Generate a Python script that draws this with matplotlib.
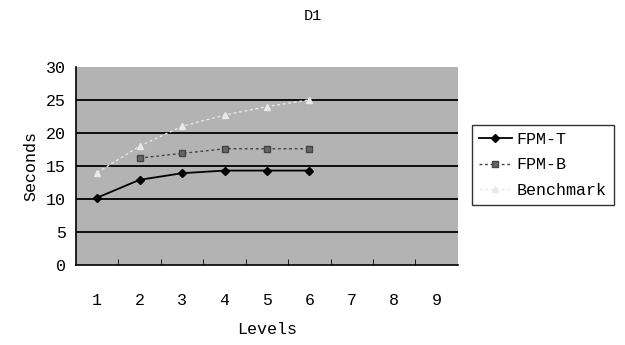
"""
D1: seconds per level for FPM-T, FPM-B and Benchmark.
"""

import numpy as np
import matplotlib.pyplot as plt

levels = [1, 2, 3, 4, 5, 6, 7, 8, 9]
fpm_t_levels = [1, 2, 3, 4, 5, 6]
fpm_t = [10.2, 12.9, 13.9, 14.3, 14.3, 14.3]
fpm_b_levels = [2, 3, 4, 5, 6]
fpm_b = [16.2, 16.9, 17.6, 17.6, 17.6]
bench_levels = [1, 2, 3, 4, 5, 6]
bench = [14.0, 18.0, 21.0, 22.7, 24.0, 25.0]

plt.rcParams["font.family"] = ["Liberation Mono", "DejaVu Sans Mono"]

fig = plt.figure(figsize=(6.25, 3.45), dpi=100)
ax = fig.add_axes([0.1216, 0.232, 0.611, 0.574])
ax.set_facecolor("#b3b3b3")

# --- gridlines ---
for y in range(5, 30, 5):
    ax.axhline(y, color="black", linewidth=1.3, zorder=1)

# --- series ---
ax.plot(bench_levels, bench, color="#e8e8e8", linestyle=(0, (2, 2)), linewidth=1.0,
        marker="^", markersize=4.5, markerfacecolor="#e8e8e8", markeredgecolor="#e8e8e8",
        label="Benchmark", zorder=2)
ax.plot(fpm_b_levels, fpm_b, color="#444444", linestyle=(0, (2, 2)), linewidth=1.0,
        marker="s", markersize=4, markerfacecolor="#666666", markeredgecolor="#444444",
        label="FPM-B", zorder=3)
ax.plot(fpm_t_levels, fpm_t, color="black", linewidth=1.3,
        marker="D", markersize=4.5, label="FPM-T", zorder=4)

ax.set_xlim(0.5, 9.5)
ax.set_ylim(0, 30)
ax.set_xticks(levels)
ax.set_xticks(np.arange(1.5, 9.5, 1), minor=True)
ax.set_yticks(range(0, 31, 5))
ax.tick_params(axis="x", which="major", length=0, pad=20, labelsize=12)
ax.tick_params(axis="x", which="minor", length=4, direction="in", color="black")
ax.tick_params(axis="y", length=0, pad=7, labelsize=12)
for side in ["top", "right"]:
    ax.spines[side].set_visible(False)
ax.spines["left"].set_linewidth(1.2)
ax.spines["bottom"].set_linewidth(1.2)

ax.set_xlabel("Levels", fontsize=12, labelpad=10)
ax.set_ylabel("Seconds", fontsize=12, labelpad=6)
fig.text(0.5, 0.955, "D1", ha="center", va="center", fontsize=11)

handles, labels = ax.get_legend_handles_labels()
order = [2, 1, 0]
leg = fig.legend([handles[i] for i in order], [labels[i] for i in order],
                 loc="upper left", bbox_to_anchor=(0.755, 0.638), borderaxespad=0,
                 frameon=True, fancybox=False, edgecolor="black", fontsize=12,
                 handlelength=2.0, handletextpad=0.3, borderpad=0.4, labelspacing=0.65)
leg.get_frame().set_linewidth(1.0)

plt.savefig("out.png", dpi=100)
